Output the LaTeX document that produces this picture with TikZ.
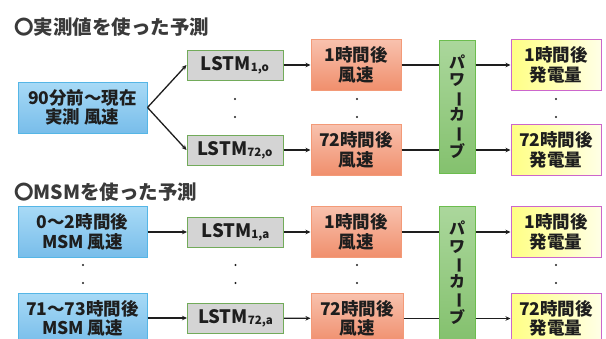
\documentclass[tikz,border=0pt]{standalone}
\usepackage{fontspec}
\setmainfont{Noto Sans CJK JP}
\usetikzlibrary{arrows.meta}
\definecolor{txt}{HTML}{1E1E1E}
\definecolor{ttl}{HTML}{3A3A3A}
\definecolor{bluetop}{HTML}{A8DAF6}
\definecolor{bluebot}{HTML}{78BDEA}
\definecolor{blueln}{HTML}{55B6E6}
\definecolor{redtop}{HTML}{F8C2AE}
\definecolor{redbot}{HTML}{F08E6C}
\definecolor{redln}{HTML}{F39A78}
\definecolor{grtop}{HTML}{ABD79C}
\definecolor{grbot}{HTML}{84C16E}
\definecolor{grln}{HTML}{6CBD4E}
\definecolor{lstmfill}{HTML}{D4D4D4}
\definecolor{lstmln}{HTML}{72AB5A}
\definecolor{yelL}{HTML}{FFFF84}
\definecolor{yelR}{HTML}{FFFFE6}
\definecolor{yelln}{HTML}{CC66CC}
\tikzset{
  base/.style={font=\fontsize{17.5}{19.5}\selectfont\bfseries, text=txt, align=center, inner sep=0pt, line width=1pt},
  bluebox/.style={base, draw=blueln, top color=bluetop, bottom color=bluebot, minimum width=129pt, minimum height=51pt},
  lstmbox/.style={base, font=\fontsize{18.5}{20}\selectfont\bfseries, draw=lstmln, fill=lstmfill, minimum width=96pt, minimum height=30pt},
  redbox/.style={base, draw=redln, top color=redtop, bottom color=redbot, minimum width=90pt, minimum height=51pt},
  greenbox/.style={base, font=\fontsize{16}{17.5}\selectfont\bfseries, draw=grln, top color=grtop, bottom color=grbot, minimum width=36pt, minimum height=133pt},
  yelbox/.style={base, draw=yelln, left color=yelL, right color=yelR, minimum width=90pt, minimum height=51pt},
  ttlnode/.style={anchor=west, inner sep=0pt, font=\fontsize{19.5}{22}\selectfont\bfseries, text=ttl},
  conn/.style={line width=1.3pt, draw=txt},
  arr/.style={conn, -{Stealth[length=5pt,width=4.5pt]}},
  dotmark/.style={circle, fill=txt, inner sep=0pt, minimum size=2.2pt}
}
\newcommand{\lstmsub}[1]{LSTM\raisebox{-1pt}{\fontsize{11.5}{11.5}\selectfont #1}}
\newcommand{\pcurve}{パ\\ワ\\\rotatebox[origin=c]{-90}{ー}\\カ\\\rotatebox[origin=c]{-90}{ー}\\ブ}
\begin{document}
\begin{tikzpicture}[x=1pt,y=-1pt]
\useasboundingbox (0,0) rectangle (606,338);
\clip (0,0) rectangle (606,338);
% top section
\node[ttlnode] (t1) at (14,27) {〇実測値を使った予測};
\node[bluebox] (b1) at (82.5,107.5) {90分前～現在\\実測 風速};
\node[lstmbox] (l1o) at (235,65) {\lstmsub{1,o}};
\node[lstmbox] (l72o) at (235,150) {\lstmsub{72,o}};
\node[redbox] (r1o) at (356,65) {1時間後\\風速};
\node[redbox] (r72o) at (356,150) {72時間後\\風速};
\node[greenbox] (g1) at (457,106.5) {\pcurve};
\node[yelbox] (y1o) at (556,65) {1時間後\\発電量};
\node[yelbox] (y72o) at (556,150) {72時間後\\発電量};
\foreach \x/\n in {235/a,357/b,556/c}{
  \node[dotmark] (d1\n) at (\x,99) {};
  \node[dotmark] (d2\n) at (\x,117) {};
}
\draw[arr] (b1.east) -- (l1o.west);
\draw[arr] (b1.east) -- (l72o.west);
\draw[arr] (l1o) -- (r1o);
\draw[arr] (l72o) -- (r72o);
\draw[conn] (r1o.east) -- (r1o.east -| g1.west);
\draw[conn] (r72o.east) -- (r72o.east -| g1.west);
\draw[arr] (y1o.west -| g1.east) -- (y1o.west);
\draw[arr] (y72o.west -| g1.east) -- (y72o.west);
% bottom section
\node[ttlnode] (t2) at (14,192) {〇MSMを使った予測};
\node[bluebox] (b1a) at (82.5,232) {0～2時間後\\MSM 風速};
\node[bluebox] (b72a) at (82.5,318.5) {71～73時間後\\MSM 風速};
\node[lstmbox] (l1a) at (235.5,232) {\lstmsub{1,a}};
\node[lstmbox] (l72a) at (235.5,318) {\lstmsub{72,a}};
\node[redbox] (r1a) at (356,232) {1時間後\\風速};
\node[redbox, minimum width=92pt] (r72a) at (357,318.5) {72時間後\\風速};
\node[greenbox, minimum height=134pt] (g2) at (457,273) {\pcurve};
\node[yelbox] (y1a) at (556,232) {1時間後\\発電量};
\node[yelbox] (y72a) at (556,318.5) {72時間後\\発電量};
\foreach \x/\n in {83/a,235.5/b,357/c,556/d}{
  \node[dotmark] (e1\n) at (\x,265) {};
  \node[dotmark] (e2\n) at (\x,283) {};
}
\draw[arr] (b1a.east |- l1a.west) -- (l1a.west);
\draw[arr] (b72a.east |- l72a.west) -- (l72a.west);
\draw[arr] (l1a) -- (r1a);
\draw[arr] (l72a) -- (r72a);
\draw[conn] (r1a.east) -- (r1a.east -| g2.west);
\draw[conn] (r72a.east) -- (r72a.east -| g2.west);
\draw[arr] (y1a.west -| g2.east) -- (y1a.west);
\draw[arr] (y72a.west -| g2.east) -- (y72a.west);
\end{tikzpicture}
\end{document}
